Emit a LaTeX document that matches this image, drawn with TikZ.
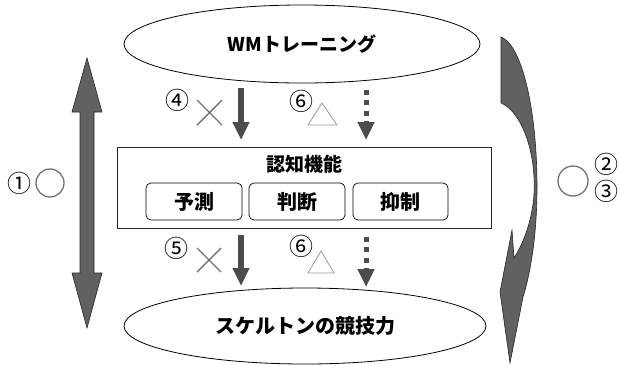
\documentclass[tikz,border=0pt]{standalone}
\usepackage{fontspec}
\setmainfont{Noto Sans CJK JP}
\usetikzlibrary{arrows.meta,shapes.geometric}
\tikzset{
  oval/.style={ellipse, draw=black, line width=0.8pt, font=\fontsize{20}{22}\selectfont\bfseries, inner sep=0pt},
  cogbox/.style={draw=black!85, line width=0.8pt, inner sep=0pt},
  subbox/.style={draw=black, line width=0.7pt, rounded corners=5pt, minimum height=37pt, inner sep=0pt, font=\fontsize{20}{22}\selectfont\bfseries},
  title/.style={font=\fontsize{19}{21}\selectfont\bfseries, inner sep=0pt},
  num/.style={font=\fontsize{24}{26}\selectfont, inner sep=0pt},
  solidarrow/.style={line width=6pt, draw=black!70, -{Triangle[width=16pt,length=18pt]}},
  dotarrow/.style={line width=5pt, draw=black!70, dash pattern=on 5pt off 5.5pt, -{Triangle[width=16pt,length=18pt]}},
  crossmark/.style={draw=black!55, line width=1.4pt},
  trimark/.style={draw=black!40, line width=0.8pt},
  ringmark/.style={draw=black!55, line width=1.3pt},
  bigarrow/.style={fill=black!62, draw=black!85, line width=0.6pt},
}
\begin{document}
\begin{tikzpicture}[x=1pt, y=-1pt]
\path[fill=white, use as bounding box] (0,0) rectangle (620,365);

% ellipses
\node[oval, minimum width=356pt, minimum height=78pt, font=\fontsize{19}{21}\selectfont\bfseries] (wm) at (302,44) {WMトレーニング};
\node[oval, minimum width=362pt, minimum height=76pt] (sk) at (305,326) {スケルトンの競技力};

% cognitive box
\node[cogbox, minimum width=374pt, minimum height=81pt] (cog) at (304,187.5) {};
\node[title] (cogt) at (304,164) {認知機能};
\node[subbox, minimum width=96pt] (yo) at (194,201.5) {予測};
\node[subbox, minimum width=96pt] (ha) at (297,201.5) {判断};
\node[subbox, minimum width=95pt] (yk) at (400.5,201.5) {抑制};

% arrow end points
\coordinate (t1s) at (241,88);
\coordinate (t1e) at (241,140);
\coordinate (t2s) at (366,89.5);
\coordinate (t2e) at (366,140);
\coordinate (b1s) at (241,235);
\coordinate (b1e) at (241,286);
\coordinate (b2s) at (366,236.5);
\coordinate (b2e) at (366,287);

\draw[solidarrow] (t1s) -- (t1e);
\draw[dotarrow] (t2s) -- (t2e);
\draw[solidarrow] (b1s) -- (b1e);
\draw[dotarrow] (b2s) -- (b2e);

% labels top
\node[num] (n4) at (177,100) {④};
\draw[crossmark] (197,100) -- (222,125) (197,125) -- (222,100);
\node[num] (n6a) at (301,101) {⑥};
\draw[trimark] (322,103) -- (308,125) -- (337,125) -- cycle;

% labels bottom
\node[num] (n5) at (176,248) {⑤};
\draw[crossmark] (197,248) -- (221,272) (197,272) -- (221,248);
\node[num] (n6b) at (301,246) {⑥};
\draw[trimark] (321,251) -- (308,273) -- (334,273) -- cycle;

% left double arrow
\draw[bigarrow] (87,58) -- (102,112) -- (94,112) -- (94,273) -- (102,273) -- (87,328)
  -- (72,273) -- (80,273) -- (80,112) -- (72,112) -- cycle;
\node[num] (n1) at (19,183) {①};
\draw[ringmark] (50,183) circle[radius=14pt];

% right curved arrow
\draw[bigarrow] (501,37) .. controls (522,45) and (537,110) .. (537,187)
  .. controls (537,240) and (529,278) .. (523,297)
  -- (510,363) -- (500,292) -- (512,230) -- (514,258)
  .. controls (528,236) and (536,205) .. (534,177)
  .. controls (532,140) and (518,110) .. (501,103) -- cycle;
\draw[ringmark] (573,181) circle[radius=15pt];
\node[num] (n2) at (606,164) {②};
\node[num] (n3) at (606,191) {③};
\end{tikzpicture}
\end{document}
